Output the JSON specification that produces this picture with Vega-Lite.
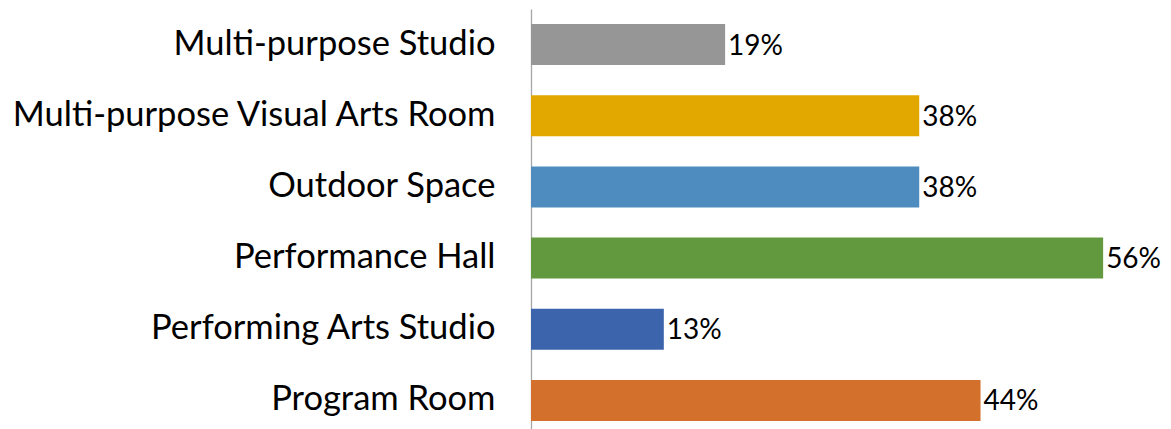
{
  "$schema": "https://vega.github.io/schema/vega-lite/v6.json",
  "width": 613,
  "height": 427,
  "autosize": {"type": "none"},
  "padding": {"left": 531, "top": 9, "right": 27, "bottom": 0},
  "background": "white",
  "config": {"view": {"stroke": null}, "font": "Lato"},
  "data": {
    "values": [
      {"space": "Multi-purpose Studio", "share": 0.19},
      {"space": "Multi-purpose Visual Arts Room", "share": 0.38},
      {"space": "Outdoor Space", "share": 0.38},
      {"space": "Performance Hall", "share": 0.56},
      {"space": "Performing Arts Studio", "share": 0.13},
      {"space": "Program Room", "share": 0.44}
    ]
  },
  "encoding": {
    "y": {
      "field": "space",
      "type": "nominal",
      "sort": null,
      "scale": {"paddingInner": 0.424, "paddingOuter": 0.212},
      "axis": {
        "title": null,
        "ticks": false,
        "labelPadding": 36,
        "labelFontSize": 34.5,
        "labelColor": "#000000",
        "labelFont": "Lato",
        "domainColor": "#A6A6A6",
        "domainWidth": 1.3,
        "labelLimit": 0
      }
    },
    "x": {
      "field": "share",
      "type": "quantitative",
      "scale": {"domain": [0, 0.6], "nice": false},
      "axis": null
    }
  },
  "layer": [
    {
      "mark": {"type": "bar"},
      "encoding": {
        "color": {
          "field": "space",
          "type": "nominal",
          "scale": {
            "domain": ["Multi-purpose Studio", "Multi-purpose Visual Arts Room", "Outdoor Space", "Performance Hall", "Performing Arts Studio", "Program Room"],
            "range": ["#969696", "#E2A800", "#4E8BBF", "#62993E", "#3B64AD", "#D2702C"]
          },
          "legend": null
        }
      }
    },
    {
      "mark": {"type": "text", "align": "left", "baseline": "middle", "dx": 3, "dy": 2, "fontSize": 28, "color": "#000000", "font": "Lato"},
      "encoding": {
        "text": {"field": "share", "type": "quantitative", "format": ".0%"}
      }
    }
  ]
}
